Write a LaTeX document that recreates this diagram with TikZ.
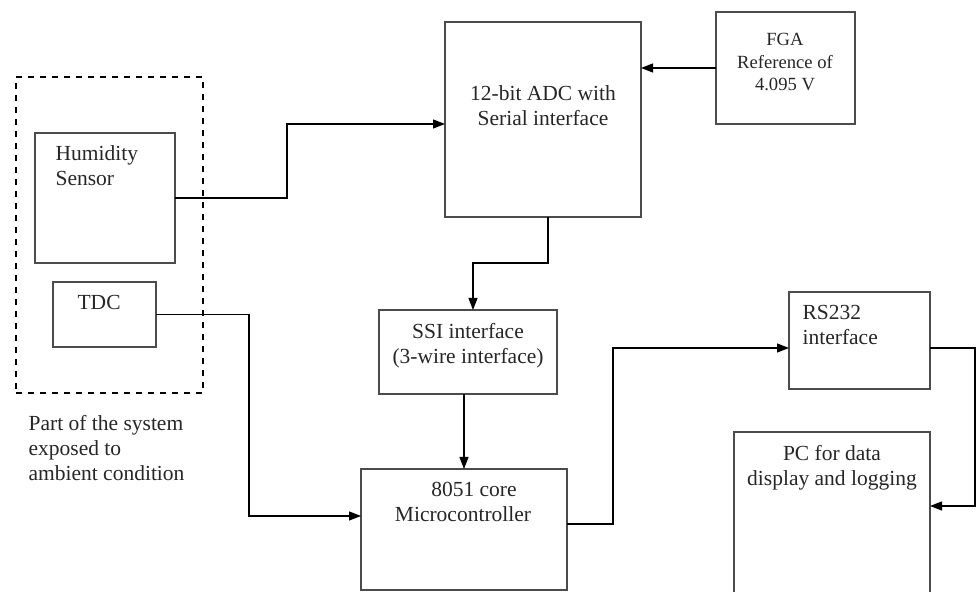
\documentclass[tikz,border=0pt]{standalone}
\usepackage{fontspec}
\setmainfont{Liberation Serif}
\usetikzlibrary{calc, arrows.meta}

\begin{document}
\begin{tikzpicture}[x=0.5pt, y=-0.5pt, line width=0.6pt,
  blk/.style={draw=black!70, inner sep=0pt, outer sep=0pt, anchor=north west},
  txt/.style={inner sep=0pt, text=black!85, font=\fontsize{10.75}{12.5}\selectfont},
  arr/.style={-{Triangle[length=6pt, width=4.5pt]}}]
  % picture measured in pixels: 976 x 592, y goes down
  \useasboundingbox (0,0) rectangle (976,592);
  \clip (0,0) rectangle (976,592);
  % sensor side (exposed part)
  \node[blk, dashed, draw=black, minimum width=93.5pt, minimum height=158pt] (expo) at (16,77) {};
  \node[blk, minimum width=70pt, minimum height=65pt] (hum) at (35,133) {};
  \node[blk, minimum width=51.5pt, minimum height=32.5pt] (tdc) at (53,282) {};
  % converter and controller
  \node[blk, minimum width=98pt, minimum height=97.5pt] (adc) at (445,22) {};
  \node[blk, minimum width=69.5pt, minimum height=56pt] (fga) at (716,12) {};
  \node[blk, minimum width=89pt, minimum height=42pt] (ssi) at (379,310) {};
  \node[blk, minimum width=103pt, minimum height=60.5pt] (mcu) at (361,469) {};
  % output side, PC box runs off the bottom
  \node[blk, minimum width=70.5pt, minimum height=48.5pt] (rs) at (789,292) {};
  \node[blk, minimum width=98pt, minimum height=85pt] (pc) at (734,432) {};
  % texts
  \node[txt, anchor=north west, align=left] (humT) at (55,145) {Humidity\\Sensor};
  \node[txt, anchor=north west] (tdcT) at (77,295) {TDC};
  \node[txt, anchor=north west, align=left] (expoT) at (28,415) {Part of the system\\exposed to\\ambient condition};
  \node[txt, anchor=north, align=center] (adcT) at (543,85) {12-bit ADC with\\Serial interface};
  \node[txt, anchor=north, align=center, font=\fontsize{9.3}{11.2}\selectfont] (fgaT) at (785,33) {FGA\\Reference of\\4.095 V};
  \node[txt, anchor=north, align=center] (ssiT) at (468,323) {SSI interface\\(3-wire interface)};
  \node[txt, anchor=north, align=center] (mcuT) at (463,482) {\hspace*{11pt}8051 core\\Microcontroller};
  \node[txt, anchor=north west, align=left] (rsT) at (802,305) {RS232\\interface};
  \node[txt, anchor=north, align=center] (pcT) at (832,445) {PC for data\\display and logging};
  % connectors
  \draw[arr] (hum.east) -- ++(112,0) |- ($(adc.west)+(0,4.5)$);
  \draw[arr] (fga.west) -- (fga.west -| adc.east);
  \draw[arr] ($(adc.south)+(5,0)$) -- ++(0,46) -| ($(ssi.north)+(5,0)$);
  \draw[arr] ($(ssi.south)+(-4,0)$) -- ($(ssi.south |- mcu.north)+(-4,0)$);
  \draw[arr] (tdc.east) -- ++(93,0) |- ($(mcu.west)+(0,-13.5)$);
  \draw[arr] ($(mcu.east)+(0,-5.5)$) -- ++(46,0) |- ($(rs.west)+(0,7.5)$);
  \draw[arr] ($(rs.east)+(0,7.5)$) -- ++(45,0) |- ($(pc.east)+(0,-11)$);
\end{tikzpicture}
\end{document}
